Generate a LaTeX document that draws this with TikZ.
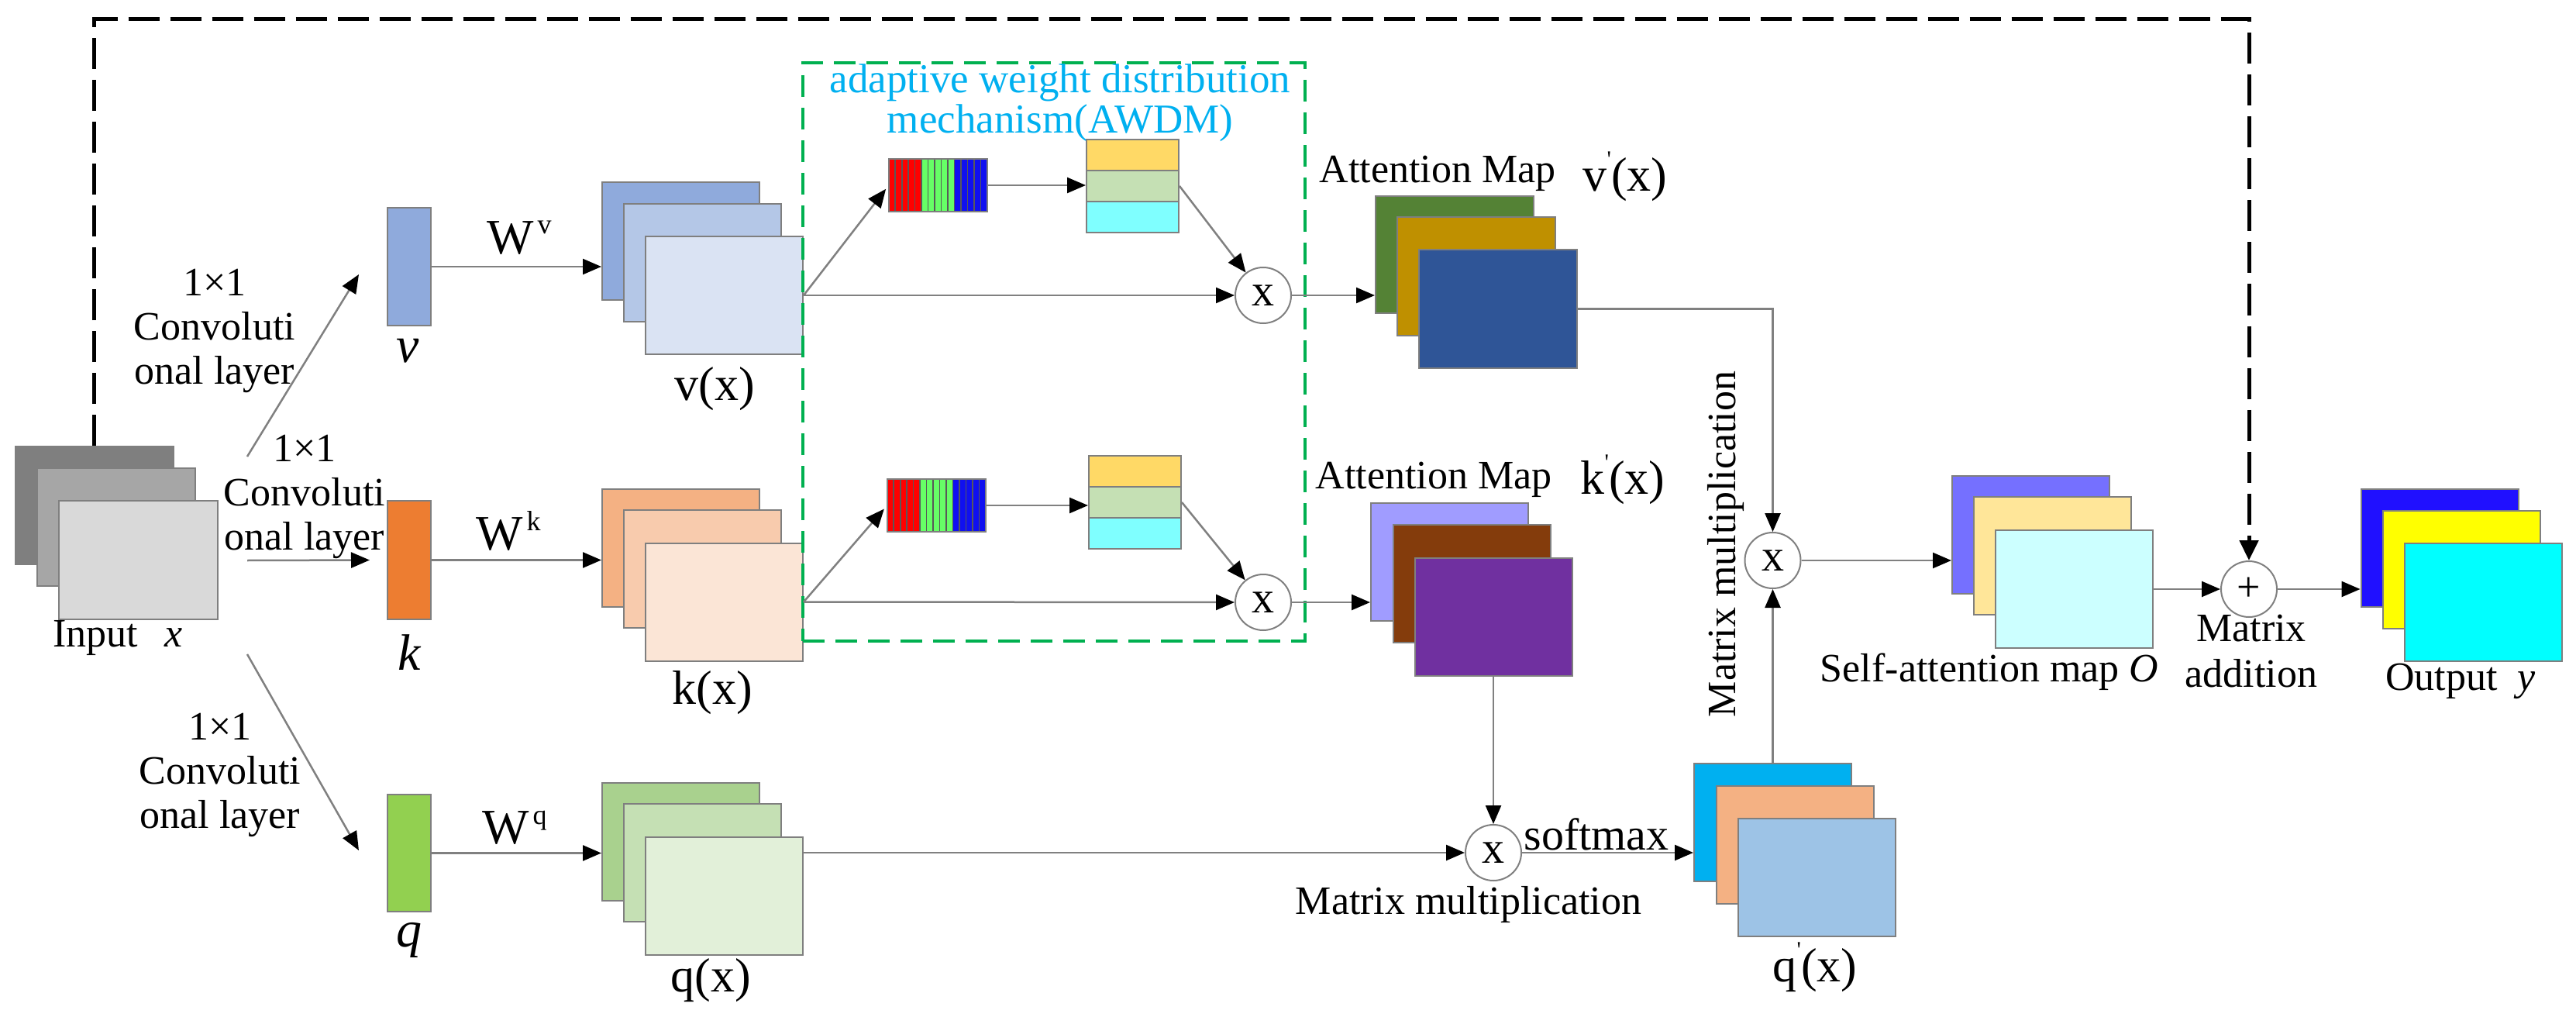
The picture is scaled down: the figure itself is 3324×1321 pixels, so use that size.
\documentclass[tikz,border=0pt]{standalone}
\usepackage{fontspec}
\setmainfont{Liberation Serif}
\usetikzlibrary{arrows.meta}
\definecolor{lay}{HTML}{7F7F7F}
\definecolor{conng}{HTML}{808080}
\definecolor{inA}{HTML}{7F7F7F}\definecolor{inB}{HTML}{A6A6A6}\definecolor{inC}{HTML}{D9D9D9}
\definecolor{vbarc}{HTML}{8FAADC}\definecolor{vxA}{HTML}{8FAADC}\definecolor{vxB}{HTML}{B4C7E7}\definecolor{vxC}{HTML}{DAE3F3}
\definecolor{kbarc}{HTML}{ED7D31}\definecolor{kxA}{HTML}{F4B183}\definecolor{kxB}{HTML}{F8CBAD}\definecolor{kxC}{HTML}{FBE5D6}
\definecolor{qbarc}{HTML}{92D050}\definecolor{qxA}{HTML}{A9D18E}\definecolor{qxB}{HTML}{C5E0B4}\definecolor{qxC}{HTML}{E2F0D9}
\definecolor{tY}{HTML}{FFD966}\definecolor{tG}{HTML}{C5E0B4}\definecolor{tC}{HTML}{7FFFFF}
\definecolor{vpA}{HTML}{548235}\definecolor{vpB}{HTML}{BF9000}\definecolor{vpC}{HTML}{2F5597}
\definecolor{kpA}{HTML}{A09CFF}\definecolor{kpB}{HTML}{843C0C}\definecolor{kpC}{HTML}{7030A0}
\definecolor{qpA}{HTML}{00B0F0}\definecolor{qpB}{HTML}{F4B183}\definecolor{qpC}{HTML}{9DC3E6}
\definecolor{saA}{HTML}{7570FF}\definecolor{saB}{HTML}{FFE699}\definecolor{saC}{HTML}{CCFFFF}
\definecolor{oA}{HTML}{2010FF}\definecolor{oB}{HTML}{FFFF00}\definecolor{oC}{HTML}{00FFFF}
\definecolor{sR}{HTML}{FF0000}\definecolor{sG}{HTML}{66FF66}\definecolor{sB}{HTML}{1010F0}
\definecolor{awdmg}{HTML}{00B050}\definecolor{awdmt}{HTML}{00B0F0}
\newcommand\fsz[1]{\fontsize{#1}{#1}\selectfont}
\newcommand\mypr{\raisebox{0.5em}{\fontsize{30}{30}\selectfont\textquotesingle}}
\newcommand\mysup[1]{\kern5pt\raisebox{0.4em}{\fontsize{36}{36}\selectfont #1}}
\newcommand\mystripes[1]{%
  \begin{scope}[shift={(#1.north west)}]
    \fill[sR] (0,0) rectangle (42.33,68);
    \fill[sG] (42.33,0) rectangle (84.67,68);
    \fill[sB] (84.67,0) rectangle (127,68);
    \foreach \i in {1,...,14} \draw[line width=1.6pt, black!65] (\i*8.4667,0) -- (\i*8.4667,68);
    \draw[lay, line width=2pt] (0,0) rectangle (127,68);
  \end{scope}}
\tikzset{
  layer/.style={draw=lay, line width=2pt, minimum width=203pt, minimum height=152pt, inner sep=0pt},
  barbox/.style={draw=lay, line width=2pt, minimum width=56pt, minimum height=152pt, inner sep=0pt},
  cell/.style={draw=lay, line width=2pt, minimum width=119pt, minimum height=40pt, inner sep=0pt},
  conn/.style={draw=conng, line width=2.5pt, -{Triangle[length=24pt,width=20pt,color=black]}},
  skip/.style={draw=black, line width=5pt, dash pattern=on 40pt off 14pt, -{Triangle[length=26pt,width=24pt,color=black]}},
  op/.style={circle, draw=conng, line width=2pt, fill=white, minimum size=72pt, inner sep=0pt, font=\fsz{58}},
  lbl/.style={inner sep=0pt, font=\fsz{52}},
  mlbl/.style={inner sep=0pt, align=center, font=\fontsize{52}{57}\selectfont},
}
\begin{document}
\begin{tikzpicture}[x=1pt,y=-1pt]
\useasboundingbox (0,0) rectangle (3324,1321);
\fill[white] (0,0) rectangle (3324,1321);

% input stack
\node[layer, fill=inA, minimum width=204pt] (in1) at (121.5,652) {};
\node[layer, fill=inB, minimum width=204pt] (in2) at (149.5,680) {};
\node[layer, fill=inC, minimum width=205pt, minimum height=153pt] (in3) at (178.5,722.5) {};
\node[lbl] (inlbl) at (152,823) {Input\hspace{34pt}\textit{x}};

% bars
\node[barbox, fill=vbarc] (vbar) at (528,344) {};
\node[barbox, fill=kbarc, minimum height=153pt] (kbar) at (528,722.5) {};
\node[barbox, fill=qbarc, minimum height=151pt] (qbar) at (528,1100.5) {};
\node[inner sep=0pt, font=\fsz{66}\itshape] (vlbl) at (526,453) {v};
\node[inner sep=0pt, font=\fsz{66}\itshape] (klbl) at (528,842) {k};
\node[inner sep=0pt, font=\fsz{66}\itshape] (qlbl) at (528,1213) {q};

% conv labels
\node[mlbl] (conv1) at (277,427) {1×1\\Convoluti\\onal layer};
\node[mlbl] (conv2) at (393,641) {1×1\\Convoluti\\onal layer};
\node[mlbl] (conv3) at (284,1000) {1×1\\Convoluti\\onal layer};

% W labels
\node[inner sep=0pt, font=\fsz{64}] (wv) at (670,307) {W\mysup{v}};
\node[inner sep=0pt, font=\fsz{64}] (wk) at (656,685) {W\mysup{k}};
\node[inner sep=0pt, font=\fsz{64}] (wq) at (664,1068) {W\mysup{q}};

% v(x), k(x), q(x) stacks
\node[layer, fill=vxA] (vx1) at (878.5,311) {};
\node[layer, fill=vxB] (vx2) at (906.5,339) {};
\node[layer, fill=vxC] (vx3) at (934.5,381) {};
\node[layer, fill=kxA] (kx1) at (878.5,706.5) {};
\node[layer, fill=kxB] (kx2) at (906.5,734) {};
\node[layer, fill=kxC] (kx3) at (934.5,776.5) {};
\node[layer, fill=qxA] (qx1) at (878.5,1085.5) {};
\node[layer, fill=qxB] (qx2) at (906.5,1112.5) {};
\node[layer, fill=qxC] (qx3) at (934.5,1156) {};
\node[inner sep=0pt, font=\fsz{62}] (vxl) at (922,502) {v(x)};
\node[inner sep=0pt, font=\fsz{62}] (kxl) at (919,894) {k(x)};
\node[inner sep=0pt, font=\fsz{62}] (qxl) at (917,1265) {q(x)};

% AWDM box
\node[draw=awdmg, line width=4pt, dash pattern=on 28pt off 14pt, minimum width=648pt, minimum height=746pt, inner sep=0pt] (awdm) at (1360,454) {};
\node[inner sep=0pt, align=center, text=awdmt, font=\fontsize{53}{52}\selectfont] (awdml) at (1368,133) {adaptive weight distribution\\mechanism(AWDM)};

% stripe bars
\node[minimum width=127pt, minimum height=68pt, inner sep=0pt] (sb1) at (1210.5,239) {};
\mystripes{sb1}
\node[minimum width=127pt, minimum height=68pt, inner sep=0pt] (sb2) at (1208.5,652) {};
\mystripes{sb2}

% tri-colour stacks
\node[cell, fill=tY] (t1a) at (1461.5,200) {};
\node[cell, fill=tG] (t1m) at (1461.5,240) {};
\node[cell, fill=tC] (t1c) at (1461.5,280) {};
\node[cell, fill=tY] (t2a) at (1464.5,608) {};
\node[cell, fill=tG] (t2m) at (1464.5,648) {};
\node[cell, fill=tC] (t2c) at (1464.5,688) {};

% multiply circles
\node[op] (m1) at (1630,381) {x};
\node[op] (m2) at (1630,777) {x};
\node[op] (m3) at (1927,1100) {x};
\node[op] (m4) at (2287.5,723) {x};
\node[op, font=\fsz{54}] (plus) at (2902,760) {+};

% attention maps
\node[layer, fill=vpA, minimum width=204pt, minimum height=151pt] (vp1) at (1877,328.5) {};
\node[layer, fill=vpB, minimum width=204pt, minimum height=153pt] (vp2) at (1905,356.5) {};
\node[layer, fill=vpC, minimum width=204pt, minimum height=153pt] (vp3) at (1933,398.5) {};
\node[lbl] (vpl1) at (1855,224) {Attention Map};
\node[inner sep=0pt, font=\fsz{62}] (vpl2) at (2097,228) {v\mypr(x)};

\node[layer, fill=kpA] (kp1) at (1870.5,724.5) {};
\node[layer, fill=kpB] (kp2) at (1899,753) {};
\node[layer, fill=kpC] (kp3) at (1927,796) {};
\node[lbl] (kpl1) at (1850,619) {Attention Map};
\node[inner sep=0pt, font=\fsz{62}] (kpl2) at (2094,619) {k\mypr(x)};

% q' stack
\node[layer, fill=qpA] (qp1) at (2287.5,1061) {};
\node[layer, fill=qpB] (qp2) at (2316.5,1089.5) {};
\node[layer, fill=qpC] (qp3) at (2344.5,1131.5) {};
\node[inner sep=0pt, font=\fsz{62}] (qpl) at (2342,1248) {q\mypr(x)};

\node[lbl] (mm1) at (1895,1167) {Matrix multiplication};
\node[inner sep=0pt, font=\fsz{58}] (smx) at (2060,1076) {softmax};
\node[lbl, rotate=90] (mm2) at (2227,702) {Matrix multiplication};

% self-attention stack
\node[layer, fill=saA] (sa1) at (2620.5,690) {};
\node[layer, fill=saB] (sa2) at (2648.5,717) {};
\node[layer, fill=saC] (sa3) at (2676.5,760) {};
\node[lbl] (sal) at (2567,867) {Self-attention map \textit{O}};
\node[mlbl, font=\fontsize{52}{59}\selectfont] (madd) at (2905,840) {Matrix\\addition};

% output stack
\node[layer, fill=oA] (o1) at (3148,706.5) {};
\node[layer, fill=oB] (o2) at (3176.5,735) {};
\node[layer, fill=oC] (o3) at (3204.5,776.5) {};
\node[lbl] (outl) at (3175,879) {Output\hspace{26pt}\textit{y}};

% connectors from input
\coordinate (c1s) at (319,589); \coordinate (c1e) at (463,354);
\coordinate (c2s) at (319,723);
\coordinate (c3s) at (319,844); \coordinate (c3e) at (463,1097);
\draw[conn] (c1s) -- (c1e);
\draw[conn] (c2s) -- ([xshift=-22pt]kbar.west);
\draw[conn] (c3s) -- (c3e);

\draw[conn] (vbar.east) -- (vbar.east -| vx1.west);
\draw[conn] (kbar.east) -- (kbar.east -| kx1.west);
\draw[conn] (qbar.east) -- (qbar.east -| qx1.west);

% AWDM v branch
\draw[conn, shorten >=6pt] (vx3.east) -- (sb1.west);
\draw[conn] (sb1.east) -- (sb1.east -| t1m.west);
\draw[conn] (t1m.east) -- (m1);
\draw[conn] (vx3.east) -- (m1.west);
\draw[conn] (m1.east) -- (m1.east -| vp1.west);
% AWDM k branch
\draw[conn, shorten >=6pt] (kx3.east) -- (sb2.west);
\draw[conn] (sb2.east) -- (sb2.east -| t2m.west);
\draw[conn] (t2m.east) -- (m2);
\draw[conn] (kx3.east) -- (m2.west);
\draw[conn] (m2.east) -- (m2.east -| kp1.west);

% lower path
\draw[conn] (kp3.south) -- (m3.north);
\draw[conn] (m3.west -| qx3.east) -- (m3.west);
\draw[conn] (m3.east) -- (m3.east -| qp1.west);
\draw[conn] (vp3.east) -| (m4.north);
\draw[conn] (qp1.north) -- (m4.south);
\draw[conn] (m4.east) -- (m4.east -| sa1.west);
\draw[conn] (sa3.east) -- (plus.west);
\draw[conn] (plus.east) -- (plus.east -| o1.west);

% skip connection
\coordinate (skiptop) at (2902,25);
\draw[skip] (in1.north) |- (skiptop) -- (plus.north);
\end{tikzpicture}
\end{document}
